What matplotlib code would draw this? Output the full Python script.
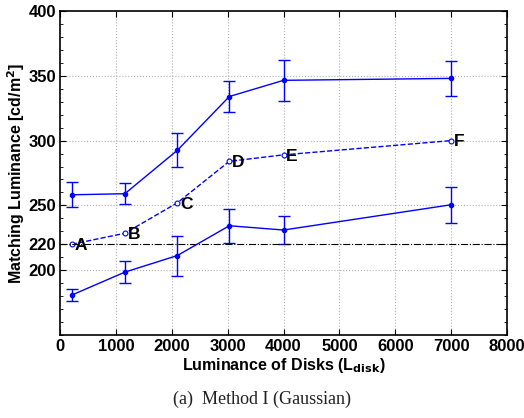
import matplotlib
matplotlib.use("Agg")
import matplotlib.pyplot as plt
from matplotlib.ticker import MultipleLocator

# luminance of disks (x) for each condition
x_disk = [210, 1160, 2100, 3030, 4000, 7000]

# upper matching curve + std
upper = [258.2, 259, 292.5, 334, 346.5, 348]
upper_err = [9.5, 8.3, 13, 12, 16, 13.5]

# reference points A-F (dashed)
ref = [220, 228.5, 252, 284, 289, 300]
ref_labels = ["A", "B", "C", "D", "E", "F"]

# lower matching curve + std
lower = [180.8, 198.5, 211.3, 234.3, 231, 250.5]
lower_err = [4.4, 8.5, 15.4, 13.3, 11, 14]

baseline = 220

plt.rcParams['font.family'] = ['Liberation Sans', 'DejaVu Sans']

fig = plt.figure(figsize=(5.24, 4.18), dpi=100)
ax = fig.add_axes([60/524, 83/418, 447/524, 324/418])

blue = (0, 0, 1)
ax.errorbar(x_disk, upper, yerr=upper_err, color=blue, lw=1, marker='o', ms=3,
            capsize=4, elinewidth=1, capthick=1)
ax.errorbar(x_disk, lower, yerr=lower_err, color=blue, lw=1, marker='o', ms=3,
            capsize=4, elinewidth=1, capthick=1)
ax.plot(x_disk, ref, color=blue, ls='--', lw=1, marker='o', ms=3.5, mfc='white',
        mew=0.8)
for xi, yi, lab in zip(x_disk, ref, ref_labels):
    ax.text(xi + 50, yi - 1, lab, fontsize=12.5, fontweight='bold', va='center', ha='left')

ax.axhline(baseline, color='black', ls='-.', lw=0.8)

ax.set_xlim(0, 8000)
ax.set_ylim(150, 400)
ax.set_xticks(range(0, 8001, 1000))
ax.set_yticks([200, 220, 250, 300, 350, 400])
ax.yaxis.set_minor_locator(MultipleLocator(10))
ax.tick_params(which='both', direction='in', top=True, right=True, labelsize=12)
ax.tick_params(which='major', length=4, pad=3)
ax.tick_params(which='minor', length=2.5)
for lbl in ax.get_xticklabels() + ax.get_yticklabels():
    lbl.set_fontweight('bold')

# grid at major ticks except the 220 line
for yv in [200, 250, 300, 350]:
    ax.axhline(yv, color='#b0b0b0', ls=':', lw=0.8, zorder=0)
for xv in range(1000, 8000, 1000):
    ax.axvline(xv, color='#b0b0b0', ls=':', lw=0.8, zorder=0)

for s in ax.spines.values():
    s.set_linewidth(1.2)

ax.set_xlabel(r"Luminance of Disks (L$_{\mathbf{disk}}$)", fontsize=11.5,
              fontweight='bold', labelpad=1)
ax.set_ylabel(r"Matching Luminance [cd/m$^{\mathbf{2}}$]", fontsize=11.5,
              fontweight='bold', labelpad=1)

fig.text(262/524, 1 - 399/418, "(a)  Method I (Gaussian)", fontsize=13,
         family='Liberation Serif', ha='center', va='center', color='#222222')

fig.savefig("out.png", dpi=100)
